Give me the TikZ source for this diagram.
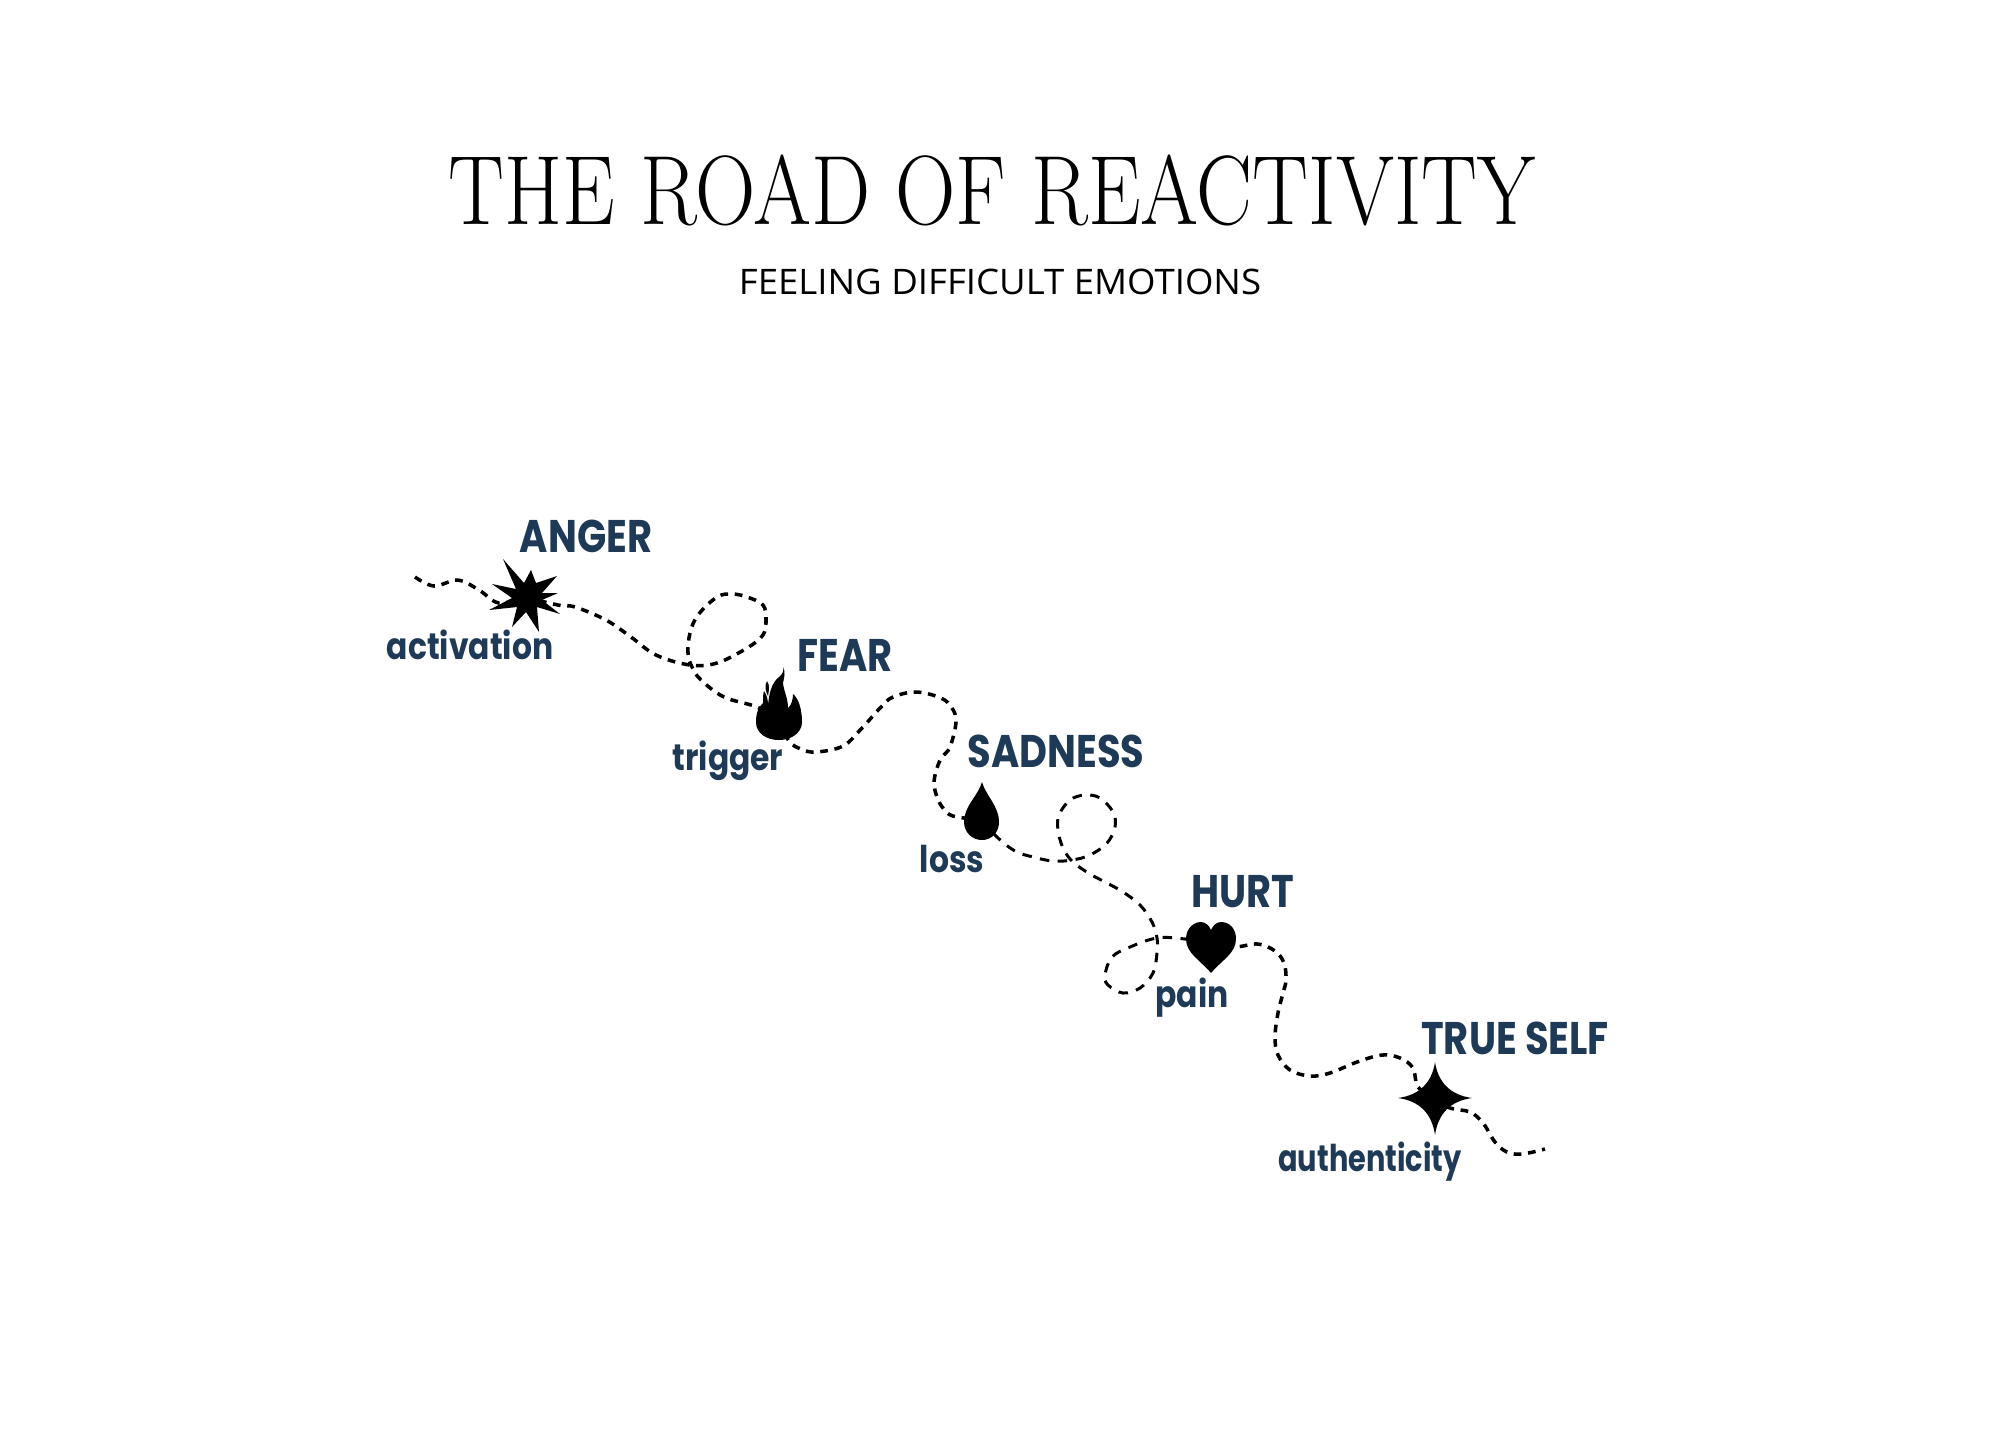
\documentclass[tikz,border=0pt]{standalone}
\usepackage{fontspec}
\newfontfamily\titlefont[FakeStretch=0.85]{Latin Modern Roman}
\newfontfamily\subfont[FakeStretch=1.04]{Open Sans}
\newfontfamily\labelfont[FakeStretch=0.84]{Poppins}
\newfontfamily\meaningfont[FakeStretch=0.85]{Poppins}
\newfontfamily\labelfontnarrow[FakeStretch=0.78]{Poppins}
\definecolor{labelblue}{HTML}{1F3A56}
\begin{document}
\begin{tikzpicture}[
  x=0.01cm, y=-0.01cm,
  emotion/.style={anchor=base, inner sep=0pt, text=labelblue, font=\labelfont\bfseries\fontsize{13}{15}\selectfont},
  meaning/.style={anchor=base, inner sep=0pt, text=labelblue, font=\meaningfont\bfseries\fontsize{10.5}{13}\selectfont},
  road/.style={line width=1pt, dash pattern=on 2.2pt off 1.9pt, smooth, tension=0.6},
  roadlong/.style={road, line width=0.85pt, dash pattern=on 2.7pt off 2.4pt},
  icon/.style={fill=black, draw=none}
]
\useasboundingbox (0,0) rectangle (2000,1429);
% titles
\node[anchor=base, inner sep=0pt, font=\titlefont\fontsize{28}{32}\selectfont] (title) at (992,224) {THE ROAD OF REACTIVITY};
\node[anchor=base, inner sep=0pt, font=\subfont\fontsize{10}{12}\selectfont] (subtitle) at (1000,294) {FEELING DIFFICULT EMOTIONS};
% stops on the road
\coordinate (roadstart) at (415,577);
\coordinate (anger) at (525,597);
\coordinate (fear) at (779,720);
\coordinate (sadness) at (982,820);
\coordinate (hurt) at (1211,945);
\coordinate (trueself) at (1435,1098);
\coordinate (roadend) at (1545,1149);
% the road
\draw[road] plot coordinates {(roadstart) (434,586) (458,580) (479,590) (499,603) (anger)};
\draw[road] plot coordinates {(anger) (558,605) (575,607) (606,620) (631,637) (656,655) (690,665) (717,663) (747,648) (763,635) (766,620) (763,605) (747,597) (732,594) (717,597) (698,615) (690,633) (688,653) (692,667) (701,680) (724,697) (757,707) (fear)};
\draw[road] plot coordinates {(fear) (789,741) (801,749) (816,752) (843,746) (862,728) (881,707) (893,697) (916,692) (941,698) (952,708) (956,722) (950,747) (942,757) (937,768) (934,783) (937,797) (943,808) (953,816) (sadness)};
\draw[roadlong] plot coordinates {(sadness) (997,837) (1015,851) (1033,857) (1053,861) (1072,860) (1090,855) (1107,843) (1115,827) (1113,812) (1100,798) (1085,795) (1070,800) (1059,815) (1058,830) (1063,848) (1073,862) (1090,874) (1107,883) (1123,892) (1140,905) (1152,922) (1157,938) (1157,953) (1153,973) (1140,988) (1123,993) (1108,985) (1105,975) (1112,957) (1130,947) (1157,938) (1185,939) (hurt)};
\draw[road] plot coordinates {(hurt) (1235,947) (1258,944) (1275,951) (1284,963) (1286,980) (1283,993) (1278,1013) (1275,1037) (1278,1055) (1290,1070) (1310,1076) (1330,1073) (1357,1062) (1382,1055) (1400,1058) (1413,1068) (1418,1087) (trueself)};
\draw[road] plot coordinates {(trueself) (1450,1108) (1470,1112) (1483,1123) (1495,1142) (1507,1152) (1522,1154) (roadend)};
% icons
\fill[icon] (503,559) -- (524,583) -- (531,570) -- (536,583) -- (557,576) -- (542,593) -- (558,593) -- (542,600) -- (560,614) -- (537,607) -- (539,632) -- (526,612) -- (512,627) -- (517,607) -- (489,610) -- (512,598) -- (492,584) -- (516,589) -- cycle;
\fill[icon] (756,722) .. controls (756,712) and (759,707) .. (763,703) .. controls (763,698) and (763,694) .. (764,691) .. controls (767,695) and (768,700) .. (768,705) .. controls (769,695) and (771,683) .. (779,677) .. controls (783,674) and (784,670) .. (783,667) .. controls (786,672) and (784,678) .. (783,683) .. controls (784,692) and (788,698) .. (788,708) .. controls (792,705) and (793,698) .. (793,694) .. controls (798,698) and (802,708) .. (802,722) .. controls (802,733) and (791,740) .. (779,740) .. controls (766,740) and (756,733) .. (756,722) -- cycle;
\fill[icon] (767,681) .. controls (764,686) and (766,692) .. (768,696) .. controls (769,690) and (770,685) .. (767,681) -- cycle;
\fill[icon] (982,782) .. controls (986,796) and (999,806) .. (999,822) .. controls (999,832) and (992,840) .. (982,840) .. controls (972,840) and (964,832) .. (964,822) .. controls (964,806) and (978,796) .. (982,782) -- cycle;
\fill[icon] (1211,973) .. controls (1200,960) and (1186,953) .. (1186,939) .. controls (1186,928) and (1194,922) .. (1201,922) .. controls (1205,922) and (1209,925) .. (1211,930) .. controls (1213,925) and (1217,922) .. (1221,922) .. controls (1229,922) and (1236,928) .. (1236,939) .. controls (1236,953) and (1222,960) .. (1211,973) -- cycle;
\fill[icon] (1435,1062) .. controls (1438,1082) and (1450,1095) .. (1472,1098) .. controls (1450,1101) and (1438,1114) .. (1435,1135) .. controls (1432,1114) and (1420,1101) .. (1398,1098) .. controls (1420,1095) and (1432,1082) .. (1435,1062) -- cycle;
% labels
\node[emotion] (angerlabel) at (586,552) {ANGER};
\node[meaning] (activationlabel) at (470,659) {activation};
\node[emotion] (fearlabel) at (845,671) {FEAR};
\node[meaning] (triggerlabel) at (728,770) {trigger};
\node[emotion] (sadnesslabel) at (1056,767) {SADNESS};
\node[meaning] (losslabel) at (952,872) {loss};
\node[emotion] (hurtlabel) at (1243,907) {HURT};
\node[meaning] (painlabel) at (1192,1007) {pain};
\node[emotion] (trueselflabel) at (1515,1054) {TRUE SELF};
\node[meaning, font=\labelfontnarrow\bfseries\fontsize{10.5}{13}\selectfont] (authenticitylabel) at (1370,1171) {authenticity};
\end{tikzpicture}
\end{document}
